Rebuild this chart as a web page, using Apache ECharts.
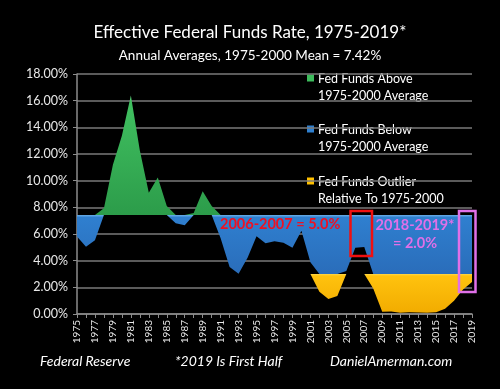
<!DOCTYPE html>
<html>
<head>
<meta charset="utf-8">
<script src="https://cdn.jsdelivr.net/npm/echarts@6/dist/echarts.min.js"></script>
<style>
html,body{margin:0;padding:0;background:#000;}
#chart{width:500px;height:389px;}
</style>
</head>
<body>
<div id="chart"></div>
<script>
// ---- data ----
var years = ['1975','1976','1977','1978','1979','1980','1981','1982','1983','1984',
  '1985','1986','1987','1988','1989','1990','1991','1992','1993','1994',
  '1995','1996','1997','1998','1999','2000','2001','2002','2003','2004',
  '2005','2006','2007','2008','2009','2010','2011','2012','2013','2014',
  '2015','2016','2017','2018','2019'];
var rates = [5.82,5.04,5.54,7.93,11.19,13.36,16.38,12.26,9.09,10.23,
  8.10,6.80,6.66,7.57,9.21,8.10,5.69,3.52,3.02,4.21,
  5.83,5.30,5.46,5.35,4.97,6.24,3.88,1.67,1.13,1.35,
  3.22,4.97,5.02,1.92,0.16,0.18,0.10,0.14,0.11,0.09,
  0.13,0.40,1.00,1.83,2.40];
var meanRate = 7.42;      // 1975-2000 mean
var outlierLevel = 3.0;   // outlier threshold
var yTicks = [0,2,4,6,8,10,12,14,16,18];

// ---- derived stacked layers ----
var base1 = rates.map(function(v){return Math.min(v, outlierLevel);});
var yellow = rates.map(function(v){return Math.max(0, outlierLevel - v);});
var base2 = rates.map(function(v){return Math.max(0, Math.min(v, meanRate) - outlierLevel);});
var blue = rates.map(function(v){return meanRate - Math.max(outlierLevel, Math.min(v, meanRate));});
var green = rates.map(function(v){return Math.max(0, v - meanRate);});

var FONT = 'Lato';
function grad(c0, c1, c2, o){
  return new echarts.graphic.LinearGradient(0,0,0,1,[
    {offset:0,color:c0},{offset:o,color:c1},{offset:1,color:c2}]);
}
function layer(name, data, fill){
  return {
    name:name, type:'line', stack:'s', data:data, symbol:'none',
    lineStyle:{width:0}, silent:true,
    areaStyle: fill ? {color:fill, opacity:1} : {opacity:0}
  };
}

var chart = echarts.init(document.getElementById('chart'), null, {renderer:'canvas'});
chart.setOption({
  backgroundColor:'#000',
  animation:false,
  title:[
    {text:'Effective Federal Funds Rate, 1975-2019*', left:'center', top:19,
     textStyle:{color:'#fff', fontFamily:FONT, fontSize:17, fontWeight:'normal'}},
    {text:'Annual Averages, 1975-2000 Mean = 7.42%', left:'center', top:44,
     textStyle:{color:'#fff', fontFamily:FONT, fontSize:13.5, fontWeight:'normal'}}
  ],
  grid:{left:77, right:28, top:74, bottom:75, containLabel:false},
  xAxis:{
    type:'category', data:years, boundaryGap:false,
    axisLine:{lineStyle:{color:'#8c8c8c', width:1.5}},
    axisTick:{show:true, interval:0, length:4, lineStyle:{color:'#8c8c8c'}},
    axisLabel:{interval:1, rotate:90, color:'#e8e8e8', fontFamily:FONT, fontSize:10, margin:6},
    splitLine:{show:false}
  },
  yAxis:{
    type:'value', min:yTicks[0], max:yTicks[yTicks.length-1], interval:2,
    axisLine:{show:true, lineStyle:{color:'#8c8c8c', width:1.5}},
    axisTick:{show:true, length:4, lineStyle:{color:'#8c8c8c'}},
    axisLabel:{color:'#e8e8e8', fontFamily:FONT, fontSize:12.5, margin:9,
      formatter:function(v){return v.toFixed(2)+'%';}},
    splitLine:{show:true, lineStyle:{color:'#7a7a7a', width:1.5}}
  },
  series:[
    layer('base1', base1, null),
    layer('Outlier', yellow, grad('#ffd84a','#ffc20e','#f2ac00',0.05)),
    layer('base2', base2, null),
    layer('Below', blue, grad('#6aaee8','#2f7fcf','#2a6dba',0.04)),
    layer('Above', green, grad('#6adb88','#40c060','#2c9c4a',0.05))
  ],
  graphic:[
    // legend
    {type:'rect', shape:{x:307,y:74.5,width:7,height:7}, style:{fill:'#3dbb5c'}},
    {type:'text', x:318, y:70, style:{text:'Fed Funds Above\n1975-2000 Average', fill:'#fff',
      font:'12.5px '+FONT, lineHeight:17, verticalAlign:'top'}},
    {type:'rect', shape:{x:307,y:125.5,width:7,height:7}, style:{fill:'#2f80d0'}},
    {type:'text', x:318, y:121, style:{text:'Fed Funds Below\n1975-2000 Average', fill:'#fff',
      font:'12.5px '+FONT, lineHeight:17, verticalAlign:'top'}},
    {type:'rect', shape:{x:307,y:177.5,width:7,height:7}, style:{fill:'#ffc000'}},
    {type:'text', x:318, y:173, style:{text:'Fed Funds Outlier\nRelative To 1975-2000', fill:'#fff',
      font:'12.5px '+FONT, lineHeight:17, verticalAlign:'top'}},
    // annotations
    {type:'text', x:220, y:224, z:10, style:{text:'2006-2007 = 5.0%', fill:'#ee1122',
      font:'bold 14.5px '+FONT, verticalAlign:'middle'}},
    {type:'rect', z:10, shape:{x:350.5,y:211,width:21.5,height:45}, style:{fill:'none', stroke:'#f01010', lineWidth:2.5}},
    {type:'text', x:415, y:216, z:10, style:{text:'2018-2019*\n= 2.0%', fill:'#e070e8',
      font:'bold 14.5px '+FONT, lineHeight:18, align:'center', verticalAlign:'top'}},
    {type:'rect', z:10, shape:{x:459,y:211,width:16.5,height:81}, style:{fill:'none', stroke:'#e070e8', lineWidth:2.5}},
    // footer
    {type:'text', x:40, y:361, style:{text:'Federal Reserve', fill:'#fff', font:'italic 14px '+FONT, verticalAlign:'middle'}},
    {type:'text', x:175, y:361, style:{text:'*2019 Is First Half', fill:'#fff', font:'italic 14px '+FONT, verticalAlign:'middle'}},
    {type:'text', x:330, y:361, style:{text:'DanielAmerman.com', fill:'#fff', font:'italic 14px '+FONT, verticalAlign:'middle'}}
  ]
});
</script>
</body>
</html>
